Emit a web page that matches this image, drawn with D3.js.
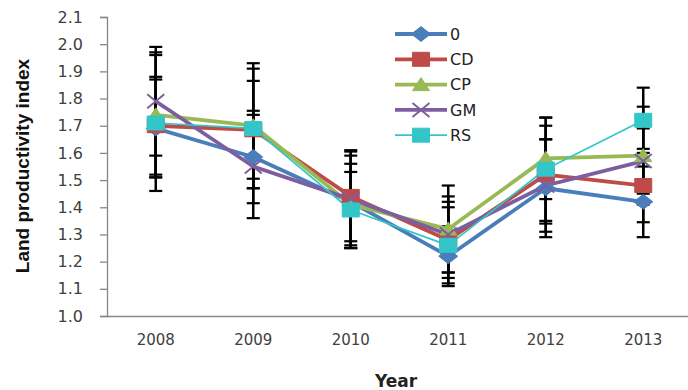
<!DOCTYPE html>
<html>
<head>
<meta charset="utf-8">
<script src="https://cdn.jsdelivr.net/npm/d3@7"></script>
<style>
  body { margin: 0; background: #fff; }
  svg { display: block; }
  .tick text { font-family: "DejaVu Sans", sans-serif; font-size: 15px; fill: #404040; }
  .yaxis .tick text { font-size: 16px; }
</style>
</head>
<body>
<svg id="chart" width="688" height="390"></svg>
<script>
// data
const years = ["2008", "2009", "2010", "2011", "2012", "2013"]
const seriesNames = ["0", "CD", "CP", "GM", "RS"]
const yTicks = [1.0, 1.1, 1.2, 1.3, 1.4, 1.5, 1.6, 1.7, 1.8, 1.9, 2.0, 2.1]

const vals0  = [1.69, 1.585, 1.42, 1.22, 1.47, 1.42]
const valsCD = [1.70, 1.685, 1.44, 1.28, 1.52, 1.48]
const valsCP = [1.74, 1.70, 1.41, 1.32, 1.58, 1.59]
const valsGM = [1.79, 1.55, 1.43, 1.30, 1.48, 1.57]
const valsRS = [1.71, 1.69, 1.39, 1.26, 1.54, 1.72]

const err0  = [0.18, 0.17, 0.17, 0.11, 0.18, 0.13]
const errCD = [0.18, 0.18, 0.165, 0.14, 0.18, 0.135]
const errCP = [0.23, 0.23, 0.15, 0.16, 0.15, 0.18]
const errGM = [0.20, 0.19, 0.18, 0.14, 0.17, 0.12]
const errRS = [0.25, 0.22, 0.14, 0.14, 0.19, 0.12]

const allVals = [vals0, valsCD, valsCP, valsGM, valsRS]
const allErrs = [err0, errCD, errCP, errGM, errRS]

const colors = ["#4a7ebb", "#be4b48", "#98b954", "#7d5fa0", "#33c6c9"]
const widths = [3.8, 3.8, 3.8, 3.8, 1.7]
const shapes = ["diamond", "square", "triangle", "x", "square"]

const series = seriesNames.map((name, i) => ({
    name: name,
    color: colors[i],
    width: widths[i],
    shape: shapes[i],
    points: years.map((y, j) => ({year: y, v: allVals[i][j], e: allErrs[i][j]}))
}))

const svg = d3.select("#chart")

const xScale = d3.scaleBand().domain(years).range([107, 692])
const yScale = d3.scaleLinear().domain([1.0, 2.1]).range([316, 17])
const cx = d => xScale(d) + xScale.bandwidth() / 2

// marker path, a bit wider than tall like the reference
function markerPath(shape) {
    const w = 8.5, h = 7
    if (shape === "diamond") return `M0,${-h - 0.5}L${w + 1},0L0,${h + 0.5}L${-w - 1},0Z`
    if (shape === "square") return `M${-w},${-h}H${w}V${h}H${-w}Z`
    if (shape === "triangle") return `M0,${-h}L${w},${h - 1}L${-w},${h - 1}Z`
    return `M${-w},${-h}L${w},${h}M${-w},${h}L${w},${-h}`
}

function drawMarker(g, s) {
    const p = g.append("path").attr("d", markerPath(s.shape))
    if (s.shape === "x") {
        p.attr("fill", "none").attr("stroke", s.color).attr("stroke-width", 2)
    } else {
        p.attr("fill", s.color).attr("stroke", s.color).attr("stroke-width", 1)
    }
}

// y axis
const yAxis = d3.axisLeft(yScale).tickValues(yTicks).tickFormat(d3.format(".1f")).tickSize(7).tickPadding(17)
const yG = svg.append("g").attr("class", "yaxis").attr("transform", "translate(107,0)").call(yAxis)
yG.select(".domain").attr("stroke", "#868686").attr("stroke-width", 1.3)
yG.selectAll(".tick line").attr("stroke", "#868686").attr("stroke-width", 1.3)

// x axis
const xAxis = d3.axisBottom(xScale).tickSize(0).tickPadding(18)
const xG = svg.append("g").attr("transform", "translate(0,316)").call(xAxis)
xG.select(".domain").attr("stroke", "#868686").attr("stroke-width", 1.3)

// axis titles
svg.append("text")
    .attr("transform", "translate(29,166) rotate(-90)")
    .attr("text-anchor", "middle")
    .attr("font-family", "Liberation Sans, Arial, sans-serif")
    .attr("font-weight", "bold")
    .attr("font-size", 19)
    .attr("fill", "#111")
    .text("Land productivity index")

svg.append("text")
    .attr("x", 396).attr("y", 387)
    .attr("text-anchor", "middle")
    .attr("font-family", "DejaVu Sans, sans-serif")
    .attr("font-weight", "bold")
    .attr("font-size", 17)
    .attr("fill", "#222")
    .text("Year")

// error bars
const errG = svg.append("g")
series.forEach(s => {
    s.points.forEach(d => {
        const x = cx(d.year)
        const y1 = yScale(d.v + d.e), y2 = yScale(d.v - d.e)
        errG.append("line").attr("x1", x).attr("x2", x).attr("y1", y1).attr("y2", y2)
            .attr("stroke", "#000").attr("stroke-width", 2.5)
        ;[y1, y2].forEach(yy => {
            errG.append("line").attr("x1", x - 6.5).attr("x2", x + 6.5).attr("y1", yy).attr("y2", yy)
                .attr("stroke", "#000").attr("stroke-width", 2.2)
        })
    })
})

// lines
const line = d3.line().x(d => cx(d.year)).y(d => yScale(d.v))
svg.append("g").selectAll("path")
    .data(series)
    .join("path")
    .attr("d", s => line(s.points))
    .attr("fill", "none")
    .attr("stroke", s => s.color)
    .attr("stroke-width", s => s.width)
    .attr("stroke-linejoin", "round")

// markers
const markG = svg.append("g")
series.forEach(s => {
    s.points.forEach(d => {
        const g = markG.append("g").attr("transform", `translate(${cx(d.year)},${yScale(d.v)})`)
        drawMarker(g, s)
    })
})

// legend
const legend = svg.append("g").attr("transform", "translate(395,34)")
const items = legend.selectAll("g")
    .data(series)
    .join("g")
    .attr("transform", (d, i) => `translate(0,${i * 25.3})`)
items.append("line")
    .attr("x1", 0).attr("x2", 52).attr("y1", 0).attr("y2", 0)
    .attr("stroke", d => d.color)
    .attr("stroke-width", d => d.width)
items.each(function(d) {
    const g = d3.select(this).append("g").attr("transform", "translate(26,0)")
    drawMarker(g, d)
})
items.append("text")
    .attr("x", 55).attr("y", 0).attr("dy", "0.36em")
    .attr("font-family", "DejaVu Sans, sans-serif")
    .attr("font-size", 16)
    .attr("fill", "#222")
    .text(d => d.name)
</script>
</body>
</html>
